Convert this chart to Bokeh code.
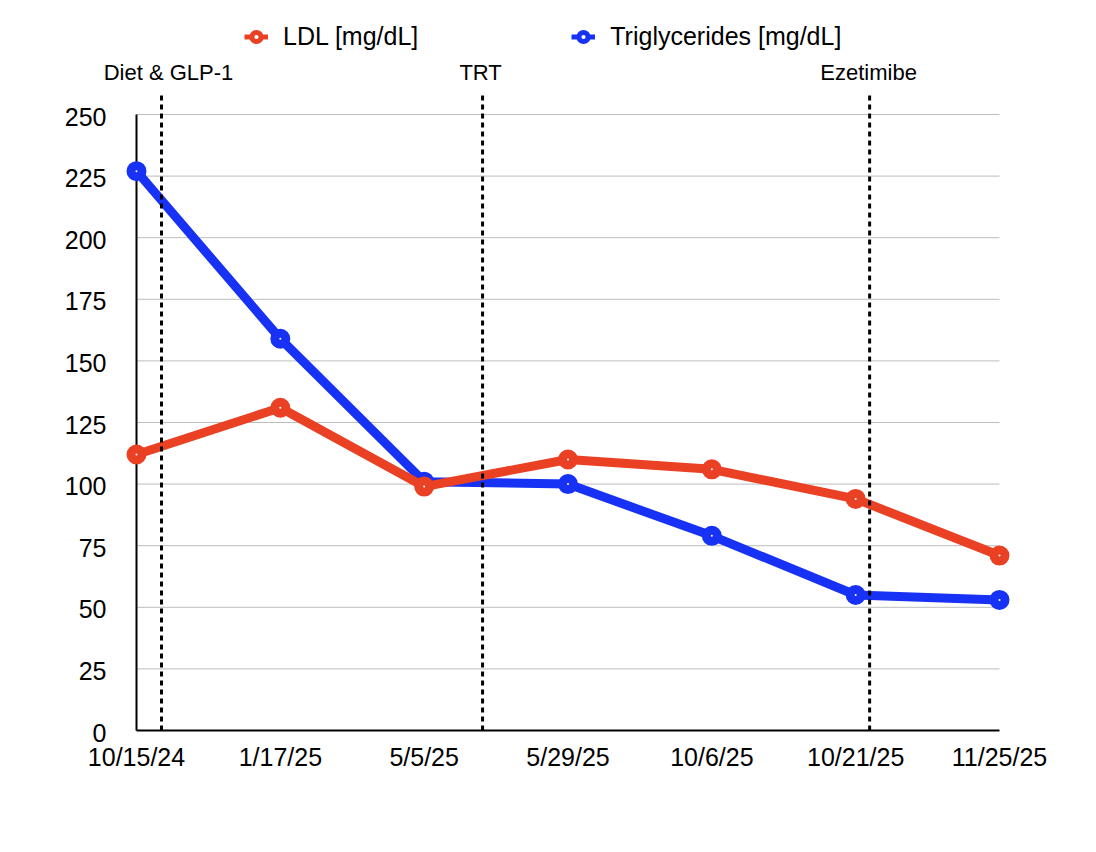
from bokeh.plotting import figure
from bokeh.models import Range1d, Legend, LegendItem
from bokeh.embed import file_html
from bokeh.resources import INLINE
from bokeh.core.properties import value

# Lab results by draw date
dates = ["10/15/24", "1/17/25", "5/5/25", "5/29/25", "10/6/25", "10/21/25", "11/25/25"]
ldl = [112, 131, 99, 110, 106, 94, 71]
trig = [227, 159, 101, 100, 79, 55, 53]

# Treatment changes, placed between draw dates (index units)
events = ["Diet & GLP-1", "TRT", "Ezetimibe"]
event_pos = [0.174, 2.406, 5.097]

y_ticks = [0, 25, 50, 75, 100, 125, 150, 175, 200, 225, 250]
y_min, y_max = 0, 250

FONT = "Liberation Sans"
RED = "#EA4125"
BLUE = "#1732F5"

x = list(range(len(dates)))
x_last = len(dates) - 1

# The frame fills the whole canvas; the plot area spans x 0..6 and y 0..250
W, H = 1096, 852
left_px, right_px, top_px, bottom_px = 136, 999, 114, 730
xs = (right_px - left_px) / x_last
ys = (bottom_px - top_px) / (y_max - y_min)

p = figure(width=W, height=H, output_backend="svg", toolbar_location=None,
           x_range=Range1d(-left_px / xs, (W - left_px) / xs),
           y_range=Range1d(-(H - bottom_px) / ys, bottom_px / ys),
           min_border=0, x_axis_location=None, y_axis_location=None)
p.outline_line_color = None
p.grid.visible = False
p.background_fill_color = "white"
p.border_fill_color = "white"

# Horizontal gridlines
gy = y_ticks[1:]
p.segment(x0=[0] * len(gy), y0=gy, x1=[x_last] * len(gy), y1=gy,
          line_color="#BDBDBD", line_width=1)

# Axis lines
p.segment(x0=[0, 0], y0=[y_min, y_min], x1=[0, x_last], y1=[y_max, y_min],
          line_color="black", line_width=2)

# Tick labels
p.text(x=[0] * len(y_ticks), y=y_ticks, text=[str(t) for t in y_ticks],
       x_offset=-30, y_offset=2, text_align="right", text_baseline="middle",
       text_font=value(FONT), text_font_size="25px", text_color="black")
p.text(x=x, y=[0] * len(x), text=dates, y_offset=26,
       text_align="center", text_baseline="middle",
       text_font=value(FONT), text_font_size="25px", text_color="black")

# Series
p.line(x, trig, line_color=BLUE, line_width=9)
p.scatter(x, trig, size=11, line_color=BLUE, line_width=9, fill_color="white")
p.line(x, ldl, line_color=RED, line_width=9)
p.scatter(x, ldl, size=11, line_color=RED, line_width=9, fill_color="white")

# Event markers
p.segment(x0=event_pos, y0=[0] * len(events), x1=event_pos, y1=[258.5] * len(events),
          line_color="black", line_width=3, line_dash="5 4")
p.text(x=event_pos, y=[267] * len(events), text=events, x_offset=[7, -2, -1],
       text_align="center", text_baseline="middle",
       text_font=value(FONT), text_font_size="22px", text_color="black")

# Legend swatches: thinner line and ring than the plotted series (no visible points)
nan = float("nan")
kl = p.line([nan], [nan], line_color=RED, line_width=5)
ks = p.scatter([nan], [nan], line_color=RED, line_width=5, fill_color="white")
bl = p.line([nan], [nan], line_color=BLUE, line_width=5)
bs = p.scatter([nan], [nan], line_color=BLUE, line_width=5, fill_color="white")

legend = Legend(items=[LegendItem(label="LDL [mg/dL]", renderers=[kl, ks]),
                       LegendItem(label="Triglycerides [mg/dL]", renderers=[bl, bs])],
                orientation="horizontal", location=(244, 801),
                border_line_color=None, background_fill_alpha=0,
                label_text_font=FONT, label_text_font_size="25px",
                label_text_color="black",
                glyph_width=24, glyph_height=23, spacing=153, label_standoff=15,
                padding=0, margin=0)
p.add_layout(legend)

open("out.html", "w").write(file_html(p, INLINE))
